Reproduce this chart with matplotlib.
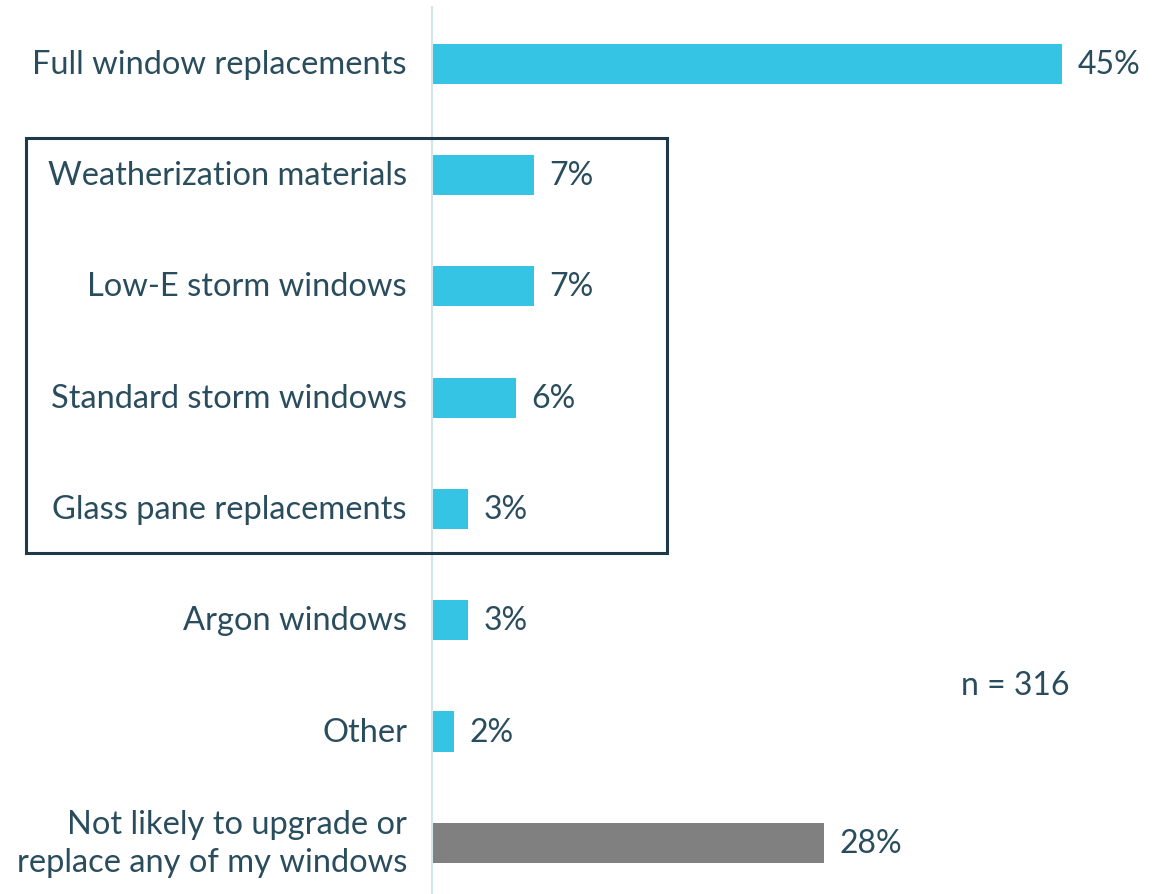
import matplotlib.pyplot as plt
from matplotlib.patches import Rectangle

categories = ["Full window replacements", "Weatherization materials", "Low-E storm windows",
              "Standard storm windows", "Glass pane replacements", "Argon windows", "Other",
              "Not likely to upgrade or\nreplace any of my windows"]
values = [45, 7.3, 7.3, 6, 2.6, 2.6, 1.6, 28]
labels = ["45%", "7%", "7%", "6%", "3%", "3%", "2%", "28%"]
colors = ["#35c4e4"] * 7 + ["#808080"]

text_color = "#2a4d5e"
plt.rcParams['font.family'] = ['Lato', 'DejaVu Sans']

fig = plt.figure(figsize=(11.52, 8.95), dpi=100)
ax = fig.add_axes([432 / 1152, 0, 720 / 1152, 887 / 895])

y = list(range(len(categories)))
ax.barh(y, values, height=0.36, color=colors)
ax.set_xlim(0, 720 / 14)
ax.set_ylim(7.46, -0.51)

for yi, v, lab in zip(y, values, labels):
    ax.text(v + 1.1, yi, lab, va="center", ha="left", fontsize=23, color=text_color)

ax.set_yticks(y)
ax.set_yticklabels(categories, fontsize=23.5, color=text_color, linespacing=1.35,
                   va="center")
ax.tick_params(axis="y", length=0, pad=18)
ax.set_xticks([])
for s in ["top", "right", "bottom"]:
    ax.spines[s].set_visible(False)
ax.spines["left"].set_color("#d3e6ee")
ax.spines["left"].set_linewidth(1.5)

fig.text(1015 / 1152, 1 - 686 / 895, "n = 316", ha="center", va="center",
         fontsize=23, color=text_color)

fig.patches.append(Rectangle((26 / 1152, 1 - 554 / 895), 641 / 1152, 415 / 895,
                             transform=fig.transFigure, fill=False,
                             edgecolor="#1e3a48", linewidth=2.2))

fig.savefig("out.png", dpi=100)
